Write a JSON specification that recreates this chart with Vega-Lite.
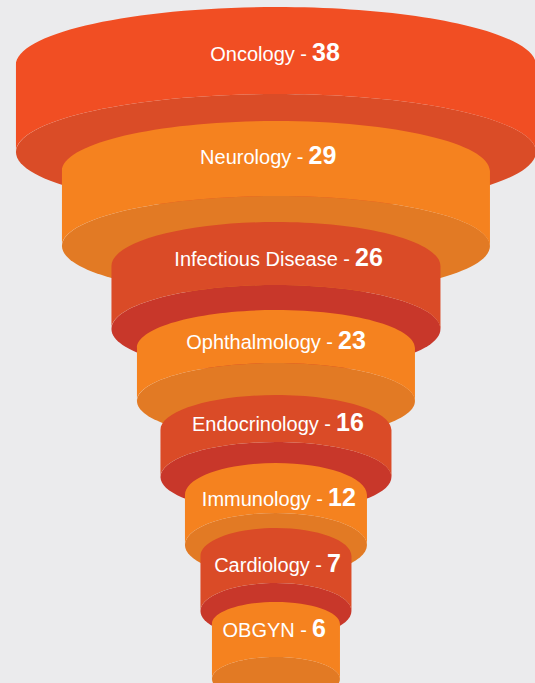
{
  "$schema": "https://vega.github.io/schema/vega-lite/v6.json",
  "autosize": {"type": "fit", "contains": "padding"},
  "width": 535,
  "height": 683,
  "padding": 0,
  "background": "#EBEBED",
  "config": {"view": {"stroke": null}},
  "data": {
    "values": [
      {"label": "Oncology", "value": 38},
      {"label": "Neurology", "value": 29},
      {"label": "Infectious Disease", "value": 26},
      {"label": "Ophthalmology", "value": 23},
      {"label": "Endocrinology", "value": 16},
      {"label": "Immunology", "value": 12},
      {"label": "Cardiology", "value": 7},
      {"label": "OBGYN", "value": 6}
    ]
  },
  "layer": [
    {
      "mark": {"type": "point", "filled": true, "opacity": 1, "strokeWidth": 0},
      "encoding": {
        "x": {"datum": 0, "type": "quantitative", "scale": {"domain": [-277, 258], "nice": false, "zero": false}, "axis": null},
        "y": {"field": "value", "type": "quantitative", "scale": {"domain": [6, 7, 12, 16, 23, 26, 29, 38], "range": [637, 572, 506, 431, 349, 266, 164, 61], "nice": false, "zero": false}, "axis": null},
        "size": {"field": "value", "type": "quantitative", "scale": {"domain": [6, 7, 12, 16, 23, 26, 29, 38], "range": [16384, 22801, 33124, 53361, 77284, 108241, 183184, 270400], "nice": false, "zero": false}, "legend": null},
        "shape": {"field": "label", "type": "nominal", "legend": null, "scale": {
          "domain": ["Oncology", "Neurology", "Infectious Disease", "Ophthalmology", "Endocrinology", "Immunology", "Cardiology", "OBGYN"],
          "range": [
            "M -1 0.35 A 1 0.2231 0 1 1 1 0.35 A 1 0.2231 0 1 1 -1 0.35 Z",
            "M -1 0.3832 A 1 0.2336 0 1 1 1 0.3832 A 1 0.2336 0 1 1 -1 0.3832 Z",
            "M -1 0.383 A 1 0.2675 0 1 1 1 0.383 A 1 0.2675 0 1 1 -1 0.383 Z",
            "M -1 0.3741 A 1 0.2734 0 1 1 1 0.3741 A 1 0.2734 0 1 1 -1 0.3741 Z",
            "M -1 0.3983 A 1 0.303 0 1 1 1 0.3983 A 1 0.303 0 1 1 -1 0.3983 Z",
            "M -1 0.4286 A 1 0.3516 0 1 1 1 0.4286 A 1 0.3516 0 1 1 -1 0.4286 Z",
            "M -1 0.5166 A 1 0.3709 0 1 1 1 0.5166 A 1 0.3709 0 1 1 -1 0.5166 Z",
            "M -1 0.6563 A 1 0.3438 0 1 1 1 0.6563 A 1 0.3438 0 1 1 -1 0.6563 Z"
          ]}},
        "color": {"field": "label", "type": "nominal", "legend": null, "scale": {
          "domain": ["Oncology", "Neurology", "Infectious Disease", "Ophthalmology", "Endocrinology", "Immunology", "Cardiology", "OBGYN"],
          "range": ["#DA4C27", "#E27A24", "#C8372A", "#E27A24", "#C8372A", "#E27A24", "#C8372A", "#E27A24"]}},
        "order": {"field": "value", "type": "quantitative", "sort": "descending"}
      }
    },
    {
      "mark": {"type": "point", "filled": true, "opacity": 1, "strokeWidth": 0},
      "encoding": {
        "x": {"datum": 0, "type": "quantitative", "scale": {"domain": [-277, 258], "nice": false, "zero": false}, "axis": null},
        "y": {"field": "value", "type": "quantitative", "axis": null},
        "size": {"field": "value", "type": "quantitative", "legend": null},
        "shape": {"field": "label", "type": "nominal", "legend": null, "scale": {
          "domain": ["Oncology", "Neurology", "Infectious Disease", "Ophthalmology", "Endocrinology", "Immunology", "Cardiology", "OBGYN"],
          "range": [
            "M -1 0.0154 A 1 0.2231 0 0 1 1 0.0154 L 1 0.35 A 1 0.2231 0 0 0 -1 0.35 Z",
            "M -1 0.0327 A 1 0.2336 0 0 1 1 0.0327 L 1 0.3832 A 1 0.2336 0 0 0 -1 0.3832 Z",
            "M -1 0 A 1 0.2675 0 0 1 1 0 L 1 0.383 A 1 0.2675 0 0 0 -1 0.383 Z",
            "M -1 -0.0072 A 1 0.2734 0 0 1 1 -0.0072 L 1 0.3741 A 1 0.2734 0 0 0 -1 0.3741 Z",
            "M -1 -0.0087 A 1 0.303 0 0 1 1 -0.0087 L 1 0.3983 A 1 0.303 0 0 0 -1 0.3983 Z",
            "M -1 -0.1209 A 1 0.3516 0 0 1 1 -0.1209 L 1 0.4286 A 1 0.3516 0 0 0 -1 0.4286 Z",
            "M -1 -0.2119 A 1 0.3709 0 0 1 1 -0.2119 L 1 0.5166 A 1 0.3709 0 0 0 -1 0.5166 Z",
            "M -1 -0.2031 A 1 0.3438 0 0 1 1 -0.2031 L 1 0.6563 A 1 0.3438 0 0 0 -1 0.6563 Z"
          ]}},
        "color": {"field": "label", "type": "nominal", "legend": null, "scale": {
          "domain": ["Oncology", "Neurology", "Infectious Disease", "Ophthalmology", "Endocrinology", "Immunology", "Cardiology", "OBGYN"],
          "range": ["#F14E23", "#F5821F", "#DA4B27", "#F5821F", "#DA4B27", "#F5821F", "#DA4B27", "#F5821F"]}},
        "order": {"field": "value", "type": "quantitative", "sort": "descending"}
      }
    },
    {
      "mark": {"type": "text", "align": "right", "baseline": "alphabetic", "dx": -2.5, "font": "Liberation Sans", "fontSize": 20, "color": "#FFFFFF", "text": {"expr": "datum.label + ' -'"}},
      "encoding": {
        "x": {"field": "value", "type": "quantitative", "scale": {"domain": [6, 7, 12, 16, 23, 26, 29, 38], "range": [309.5, 324.5, 325.5, 333.5, 335.5, 352.5, 306, 309.5], "nice": false, "zero": false}, "axis": null},
        "y": {"field": "value", "type": "quantitative", "axis": null}
      }
    },
    {
      "mark": {"type": "text", "align": "left", "baseline": "alphabetic", "dx": 2.5, "font": "Liberation Sans", "fontSize": 25, "fontWeight": "bold", "color": "#FFFFFF"},
      "encoding": {
        "x": {"field": "value", "type": "quantitative", "scale": {"domain": [6, 7, 12, 16, 23, 26, 29, 38], "range": [309.5, 324.5, 325.5, 333.5, 335.5, 352.5, 306, 309.5], "nice": false, "zero": false}, "axis": null},
        "y": {"field": "value", "type": "quantitative", "axis": null},
        "text": {"field": "value", "type": "quantitative"}
      }
    }
  ],
  "resolve": {"scale": {"x": "independent", "color": "independent", "shape": "independent"}}
}
